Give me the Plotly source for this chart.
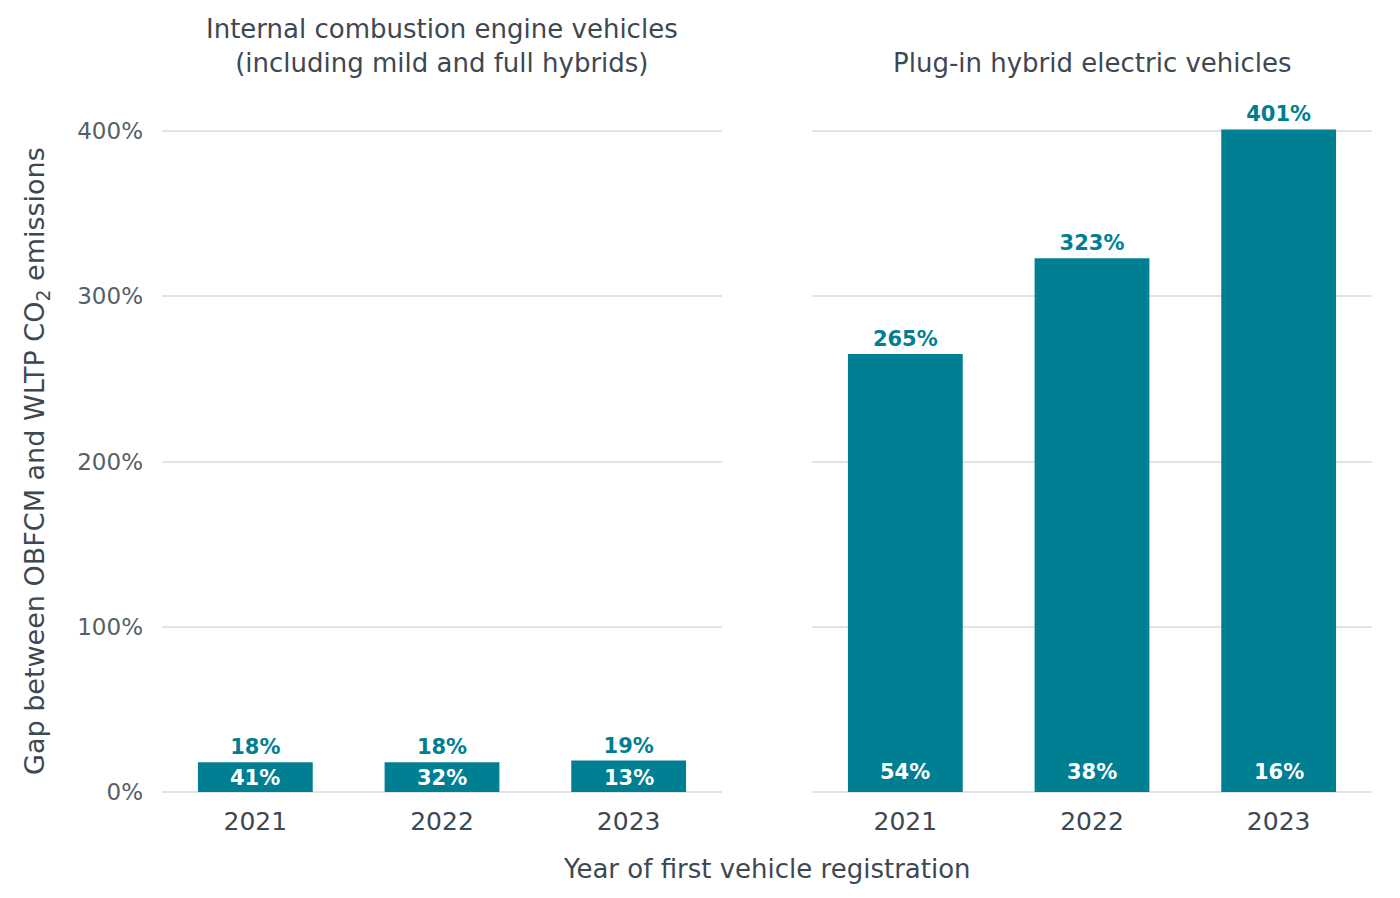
import plotly.graph_objects as go

years = ["2021", "2022", "2023"]
ice_gap = [18, 18, 19]
ice_inner = [41, 32, 13]
phev_gap = [265, 323, 401]
phev_inner = [54, 38, 16]
y_ticks = [0, 100, 200, 300, 400]
y_tick_labels = ["0%", "100%", "200%", "300%", "400%"]

TEAL = "#007E92"
DARK = "#3D4852"
GRID = "#E3E3E3"
FONT = "DejaVu Sans"

fig = go.Figure()

fig.add_trace(go.Bar(
    x=years, y=ice_gap, marker=dict(color=TEAL, line=dict(width=0)),
    text=[f"{v}%" for v in ice_gap], textposition="outside",
    textfont=dict(color=TEAL, size=21, family=FONT, weight="bold"),
    cliponaxis=False, xaxis="x", yaxis="y", showlegend=False))
fig.add_trace(go.Bar(
    x=years, y=phev_gap, marker=dict(color=TEAL, line=dict(width=0)),
    text=[f"{v}%" for v in phev_gap], textposition="outside",
    textfont=dict(color=TEAL, size=21, family=FONT, weight="bold"),
    cliponaxis=False, xaxis="x2", yaxis="y2", showlegend=False))

annotations = []
for i, v in enumerate(ice_inner):
    annotations.append(dict(x=i, y=0, xref="x", yref="y", text=f"{v}%",
                            showarrow=False, xanchor="center", yanchor="bottom", yshift=0,
                            font=dict(color="white", size=21, family=FONT, weight="bold")))
for i, v in enumerate(phev_inner):
    annotations.append(dict(x=i, y=0, xref="x2", yref="y2", text=f"{v}%",
                            showarrow=False, xanchor="center", yanchor="bottom", yshift=6,
                            font=dict(color="white", size=21, family=FONT, weight="bold")))

L0, L1 = 0.0, 560 / 1210
R0, R1 = 650 / 1210, 1.0

annotations += [
    dict(x=(L0 + L1) / 2, y=1, xref="paper", yref="paper", xanchor="center",
         yanchor="bottom", yshift=18,
         text="Internal combustion engine vehicles<br>(including mild and full hybrids)",
         showarrow=False, font=dict(size=26, color=DARK, family=FONT)),
    dict(x=(R0 + R1) / 2, y=1, xref="paper", yref="paper", xanchor="center",
         yanchor="bottom", yshift=18,
         text="Plug-in hybrid electric vehicles",
         showarrow=False, font=dict(size=26, color=DARK, family=FONT)),
    dict(x=(767 - 162) / 1210, y=-(869 - 792) / 694, xref="paper", yref="paper",
         xanchor="center", yanchor="middle", text="Year of first vehicle registration",
         showarrow=False, font=dict(size=26, color=DARK, family=FONT)),
    dict(x=(36 - 162) / 1210, y=(792 - 461) / 694, xref="paper", yref="paper",
         xanchor="center", yanchor="middle", textangle=-90,
         text="Gap between OBFCM and WLTP CO<sub>2</sub> emissions",
         showarrow=False, font=dict(size=27, color=DARK, family=FONT)),
]

axis_y = dict(range=[0, 420], tickvals=y_ticks, ticktext=y_tick_labels,
              showgrid=True, gridcolor=GRID, gridwidth=1.5, zeroline=True,
              zerolinecolor=GRID, zerolinewidth=1.5, showline=False,
              tickfont=dict(size=23, color="#555F68", family=FONT),
              ticklabelstandoff=18, fixedrange=True)
axis_x = dict(type="category", range=[-0.5, 2.5], showgrid=False, showline=False,
              tickfont=dict(size=25, color=DARK, family=FONT), ticks="",
              ticklabelstandoff=12)

fig.update_layout(
    width=1400, height=898,
    margin=dict(l=162, r=28, t=98, b=106),
    plot_bgcolor="white", paper_bgcolor="white",
    bargap=0.385,
    font=dict(family=FONT, color=DARK),
    xaxis=dict(domain=[L0, L1], anchor="y", **axis_x),
    xaxis2=dict(domain=[R0, R1], anchor="y2", **axis_x),
    yaxis=dict(domain=[0, 1], anchor="x", **axis_y),
    yaxis2=dict(domain=[0, 1], anchor="x2", **{**axis_y, "showticklabels": False}),
    annotations=annotations,
)

fig.write_html("out.html")
